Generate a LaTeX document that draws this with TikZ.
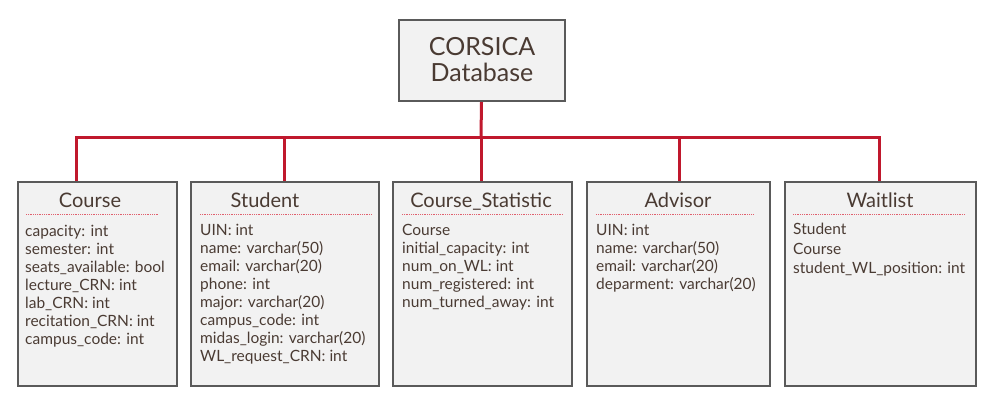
\documentclass[tikz,border=0pt]{standalone}
\usepackage{fontspec}
\setmainfont{Lato}
\definecolor{boxfill}{HTML}{F2F2F2}
\definecolor{boxline}{HTML}{5A5A5A}
\definecolor{busred}{HTML}{C0182D}
\definecolor{seprred}{HTML}{E0606E}
\definecolor{txt}{HTML}{4A3B33}
\begin{document}
\begin{tikzpicture}[x=1pt,y=-1pt,
  entity/.style={draw=boxline,fill=boxfill,line width=2pt,inner sep=0pt},
  bus/.style={draw=busred,line width=3pt},
  sepline/.style={draw=seprred,line width=1pt,dash pattern=on 1pt off 0.8pt},
  ttl/.style={text=txt,font=\fontsize{20}{24}\selectfont,inner sep=0pt,anchor=base},
  body/.style={text=txt,font=\fontsize{15.5}{18}\selectfont,inner sep=0pt,anchor=north west,align=left}]
\useasboundingbox (0,0) rectangle (998,404);
% boxes
\node[entity,minimum width=166pt,minimum height=81pt] (db) at (481.5,60.5) {};
\node[text=txt,font=\fontsize{25}{26}\selectfont,align=center,inner sep=0pt] (dbt) at (482,60) {CORSICA\\Database};
\node[entity,minimum width=159pt,minimum height=204pt] (course) at (97,284) {};
\node[entity,minimum width=188pt,minimum height=204pt] (student) at (285,284) {};
\node[entity,minimum width=179pt,minimum height=204pt] (stat) at (482.5,284) {};
\node[entity,minimum width=183pt,minimum height=204pt] (advisor) at (678,284) {};
\node[entity,minimum width=191pt,minimum height=204pt] (waitlist) at (880,284) {};
% connectors
\coordinate (hub) at (481,137);
\draw[bus] (db.south) -- (hub);
\draw[bus] (hub) -| ([xshift=-21pt]course.north);
\draw[bus] (hub) -| ([xshift=-1pt]student.north);
\draw[bus] (hub) -- ([xshift=-1.5pt]stat.north);
\draw[bus] (hub) -| ([xshift=1pt]advisor.north);
\draw[bus] (hub) -| ([xshift=-1pt]waitlist.north);
% titles
\node[ttl] (courset) at (90,207) {Course};
\node[ttl] (studentt) at (265,207) {Student};
\node[ttl] (statt) at (481,207) {Course\_Statistic};
\node[ttl] (advisort) at (678,207) {Advisor};
\node[ttl] (waitlistt) at (880,207) {Waitlist};
% separators
\draw[sepline] (26,214) -- (159,214);
\draw[sepline] (200,214) -- (372,214);
\draw[sepline] (402,214) -- (563,214);
\draw[sepline] (596,214) -- (753,214);
\draw[sepline] (793,214) -- (965,214);
% bodies
\node[body] (courseb) at (25,223.5) {\strut capacity: int\\semester: int\\seats\_available: bool\\lecture\_CRN: int\\lab\_CRN: int\\recitation\_CRN: int\\campus\_code: int};
\node[body] (studentb) at (200,223) {\strut UIN: int\\name: varchar(50)\\email: varchar(20)\\phone: int\\major: varchar(20)\\campus\_code: int\\midas\_login: varchar(20)\\WL\_request\_CRN: int};
\node[body] (statb) at (402,223) {\strut Course\\initial\_capacity: int\\num\_on\_WL: int\\num\_registered: int\\num\_turned\_away: int};
\node[body] (advisorb) at (596,223) {\strut UIN: int\\name: varchar(50)\\email: varchar(20)\\deparment: varchar(20)};
\node[body,font=\fontsize{15.5}{19.5}\selectfont] (waitlistb) at (793,221) {\strut Student\\Course\\student\_WL\_position: int};
\end{tikzpicture}
\end{document}
